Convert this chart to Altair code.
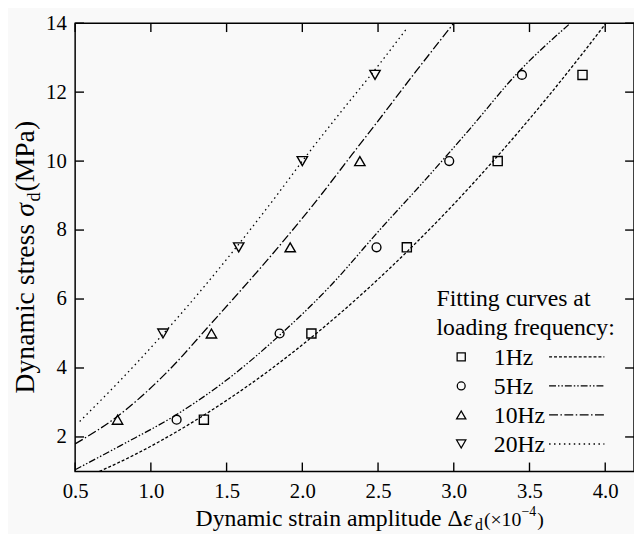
import altair as alt
import pandas as pd

# ---------------- data ----------------
freq_labels = ["1Hz", "5Hz", "10Hz", "20Hz"]

stress_1hz = [2.5, 5.0, 7.5, 10.0, 12.5]
strain_1hz = [1.35, 2.06, 2.69, 3.29, 3.85]
stress_5hz = [2.5, 5.0, 7.5, 10.0, 12.5]
strain_5hz = [1.17, 1.85, 2.49, 2.97, 3.45]
stress_10hz = [2.5, 5.0, 7.5, 10.0]
strain_10hz = [0.78, 1.40, 1.92, 2.38]
stress_20hz = [5.0, 7.5, 10.0, 12.5]
strain_20hz = [1.08, 1.58, 2.00, 2.48]

fit_1hz_x = [0.66, 0.9, 1.2, 1.5, 1.8, 2.1, 2.4, 2.7, 3.0, 3.3, 3.6, 3.85, 4.005]
fit_1hz_y = [1.0, 1.5, 2.23, 3.06, 3.99, 5.03, 6.17, 7.41, 8.75, 10.2, 11.75, 13.12, 14.0]
fit_5hz_x = [0.5, 0.8, 1.17, 1.5, 1.85, 2.2, 2.5, 2.8, 3.1, 3.42, 3.77]
fit_5hz_y = [1.05, 1.75, 2.65, 3.65, 4.95, 6.45, 7.95, 9.4, 10.9, 12.55, 14.0]
fit_10hz_x = [0.5, 0.78, 1.1, 1.4, 1.85, 2.12, 2.33, 2.48, 2.75, 3.0]
fit_10hz_y = [1.8, 2.6, 3.85, 5.3, 7.55, 9.0, 10.2, 11.05, 12.6, 14.0]
fit_20hz_x = [0.53, 0.8, 1.08, 1.35, 1.6, 1.83, 2.0, 2.25, 2.48, 2.69]
fit_20hz_y = [2.45, 3.65, 4.98, 6.35, 7.7, 9.0, 10.0, 11.4, 12.65, 13.85]

x_ticks = [0.5, 1.0, 1.5, 2.0, 2.5, 3.0, 3.5, 4.0]
y_ticks = [2, 4, 6, 8, 10, 12, 14]

legend_title = ["Fitting curves at", "loading frequency:"]

# ---------------- styling ----------------
FONT = "Liberation Serif"
W, H = 566, 454
PAD_T = 12
PAD_B = 526 - PAD_T - H
TICK = 9
shapes = ["square", "circle", "triangle-up", "triangle-down"]
sizes = [85, 80, 110, 110]
dashes = [[3, 2], [7, 2, 1.5, 2, 1.5, 2], [9, 2.5, 1.5, 2.5], [1.5, 3.5]]

xs = alt.Scale(domain=[0.5, 4.19], nice=False, zero=False)
ys = alt.Scale(domain=[1, 14], nice=False, zero=False)
x_axis = alt.Axis(values=x_ticks, format=".1f", ticks=False, domain=False, grid=False,
                  labelFont=FONT, labelFontSize=21, labelColor="black", labelPadding=9,
                  labelFlush=False)
y_axis = alt.Axis(values=y_ticks, format="d", ticks=False, domain=False, grid=False,
                  labelFont=FONT, labelFontSize=21, labelColor="black", labelPadding=9,
                  labelFlush=False)


def X(f):
    return alt.X(f, scale=xs, axis=x_axis, title=None)


def Y(f):
    return alt.Y(f, scale=ys, axis=y_axis, title=None)


series = [
    (strain_1hz, stress_1hz, fit_1hz_x, fit_1hz_y),
    (strain_5hz, stress_5hz, fit_5hz_x, fit_5hz_y),
    (strain_10hz, stress_10hz, fit_10hz_x, fit_10hz_y),
    (strain_20hz, stress_20hz, fit_20hz_x, fit_20hz_y),
]

layers = []

# inward tick marks on all four sides
xt = pd.DataFrame({"v": x_ticks})
yt = pd.DataFrame({"v": y_ticks})
rule_kw = dict(color="black", strokeWidth=1.4)
layers.append(alt.Chart(xt).mark_rule(**rule_kw).encode(
    x=X("v:Q"), y=alt.value(H), y2=alt.value(H - TICK)))
layers.append(alt.Chart(xt).mark_rule(**rule_kw).encode(
    x=X("v:Q"), y=alt.value(0), y2=alt.value(TICK)))
layers.append(alt.Chart(yt).mark_rule(**rule_kw).encode(
    y=Y("v:Q"), x=alt.value(0), x2=alt.value(TICK)))
layers.append(alt.Chart(yt).mark_rule(**rule_kw).encode(
    y=Y("v:Q"), x=alt.value(W - TICK), x2=alt.value(W)))

# fitted curves and measured points
for i, (px, py, fx, fy) in enumerate(series):
    fdf = pd.DataFrame({"x": fx, "y": fy, "o": list(range(len(fx)))})
    layers.append(alt.Chart(fdf).mark_line(color="black", strokeWidth=1.3, strokeDash=dashes[i],
                                           interpolate="monotone").encode(
        x=X("x:Q"), y=Y("y:Q"), order="o:Q"))
    pdf = pd.DataFrame({"x": px, "y": py})
    layers.append(alt.Chart(pdf).mark_point(shape=shapes[i], size=sizes[i], filled=False,
                                            color="black", strokeWidth=1.4, opacity=1).encode(
        x=X("x:Q"), y=Y("y:Q")))

# legend block
LX_TEXT, LY0 = 366, 279
for j, t in enumerate(legend_title):
    layers.append(alt.Chart(pd.DataFrame({"t": [t]})).mark_text(
        font=FONT, fontSize=24, align="left", baseline="middle", color="black").encode(
        text="t:N", x=alt.value(LX_TEXT), y=alt.value(LY0 + 30 * j)))
for i, lab in enumerate(freq_labels):
    yy = 338 + 29.4 * i
    d1 = pd.DataFrame({"t": [lab]})
    layers.append(alt.Chart(d1).mark_point(shape=shapes[i], size=sizes[i] * 0.8, filled=False,
                                           color="black", strokeWidth=1.3, opacity=1).encode(
        x=alt.value(391), y=alt.value(yy)))
    layers.append(alt.Chart(d1).mark_text(font=FONT, fontSize=24, align="left", baseline="middle",
                                          color="black").encode(
        text="t:N", x=alt.value(424), y=alt.value(yy + 1)))
    layers.append(alt.Chart(d1).mark_rule(color="black", strokeWidth=1.3, strokeDash=dashes[i]).encode(
        x=alt.value(480), x2=alt.value(536), y=alt.value(yy)))


# axis titles built from pieces (italic symbols, sub/superscripts)
def piece(text, x, y, size, style="normal", angle=0, align="left"):
    return alt.Chart(pd.DataFrame({"t": [text]})).mark_text(
        font=FONT, fontSize=size, fontStyle=style, align=align, baseline="alphabetic",
        angle=angle, color="black").encode(text="t:N", x=alt.value(x), y=alt.value(y))


XB = 529.5 - 8 - PAD_T
layers += [
    piece("Dynamic strain amplitude \u0394", 122, XB, 24),
    piece("\u03b5", 393, XB, 24, "italic"),
    piece("d", 405, XB + 4, 16),
    piece("(\u00d710", 414, XB, 20),
    piece("\u22124", 452, XB - 10, 14),
    piece(")", 468, XB, 20),
]

YB = -42
YF = 28
Y0 = 375
w_main = 6.388 * YF
w_sig = 0.55 * YF
w_d = 0.5 * YF * 0.66
layers += [
    piece("Dynamic stress ", YB, Y0, YF, angle=270),
    piece("\u03c3", YB, Y0 - w_main, YF, "italic", angle=270),
    piece("d", YB + 6, Y0 - w_main - w_sig, YF * 0.66, angle=270),
    piece("(MPa)", YB, Y0 - w_main - w_sig - w_d - 1, YF, angle=270),
]

chart = alt.layer(*layers).properties(
    width=W, height=H,
    autosize=alt.AutoSizeParams(type="none"),
    padding={"left": 68, "top": PAD_T, "right": 0, "bottom": PAD_B},
    background="#f9f9f9",
).configure_view(stroke="black", strokeWidth=1.5)

chart.save("out.html", embed_options={"renderer": "svg", "actions": False})
